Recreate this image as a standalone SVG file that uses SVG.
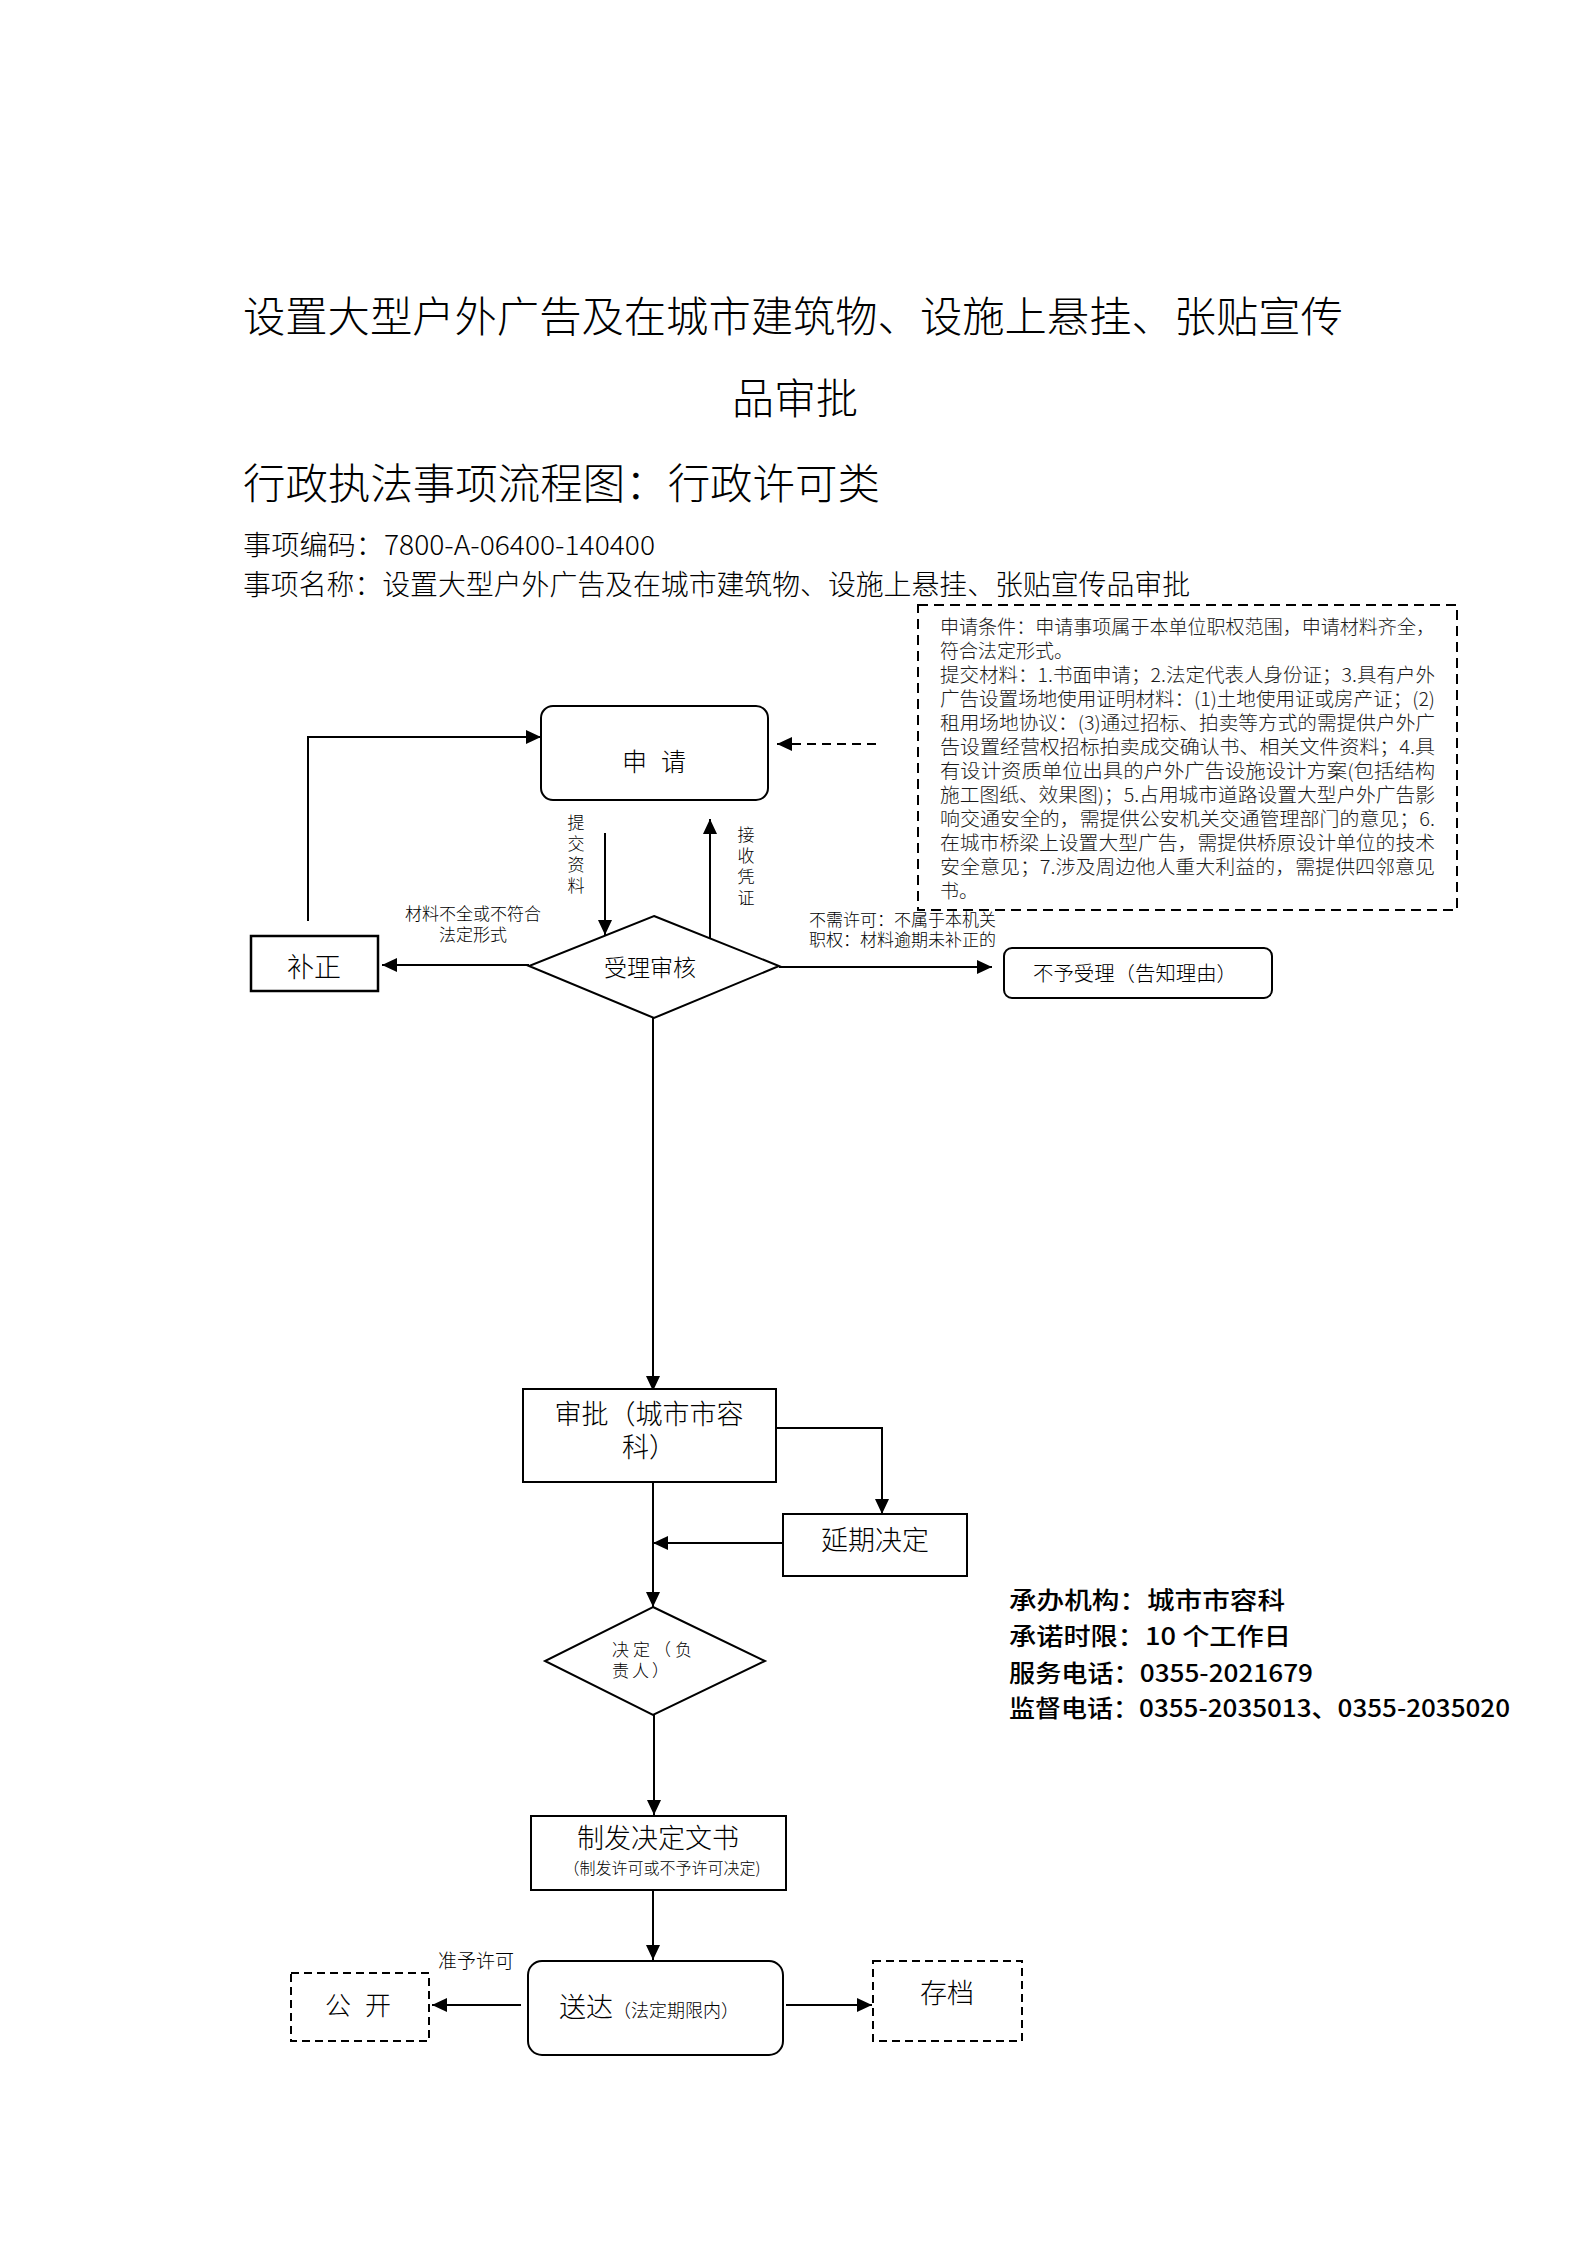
<svg xmlns="http://www.w3.org/2000/svg" width="1587" height="2245" viewBox="0 0 1587 2245">
<style>
text{font-family:"Noto Sans CJK SC","Noto Sans",sans-serif;fill:#000;font-weight:300}
.box{fill:#fff;stroke:#000;stroke-width:2}
.dash{fill:none;stroke:#000;stroke-width:2;stroke-dasharray:8 5}
.ln{fill:none;stroke:#000;stroke-width:2}
.note{font-size:19px;fill:#1a1a1a}
.lab{font-size:17px}
.info{font-size:24px;font-weight:500}
</style>
<defs>
<marker id="ah" viewBox="0 0 15 14" refX="15" refY="7" markerWidth="15" markerHeight="14" markerUnits="userSpaceOnUse" orient="auto">
<path d="M0,0 L15,7 L0,14 z" fill="#000"/>
</marker>
</defs>
<rect width="1587" height="2245" fill="#fff"/>

<g id="header">
<text x="243" y="332" font-size="42" textLength="1100" lengthAdjust="spacingAndGlyphs">设置大型户外广告及在城市建筑物、设施上悬挂、张贴宣传</text>
<text x="795" y="414" font-size="42" text-anchor="middle">品审批</text>
<text x="243" y="499" font-size="42" textLength="637" lengthAdjust="spacingAndGlyphs">行政执法事项流程图：行政许可类</text>
<text x="243" y="555" font-size="27" textLength="412" lengthAdjust="spacingAndGlyphs">事项编码：7800-A-06400-140400</text>
<text x="243" y="595" font-size="28" textLength="947" lengthAdjust="spacingAndGlyphs">事项名称：设置大型户外广告及在城市建筑物、设施上悬挂、张贴宣传品审批</text>
</g>

<g id="conditions">
<rect x="918" y="605" width="539" height="305" fill="none" stroke="#000" stroke-width="2" stroke-dasharray="10 6"/>
<text class="note" x="940" y="634" textLength="495" lengthAdjust="spacingAndGlyphs">申请条件：申请事项属于本单位职权范围，申请材料齐全，</text>
<text class="note" x="940" y="658">符合法定形式。</text>
<text class="note" x="940" y="682" textLength="495" lengthAdjust="spacingAndGlyphs">提交材料：1.书面申请；2.法定代表人身份证；3.具有户外</text>
<text class="note" x="940" y="706" textLength="495" lengthAdjust="spacingAndGlyphs">广告设置场地使用证明材料：(1)土地使用证或房产证；(2)</text>
<text class="note" x="940" y="730" textLength="495" lengthAdjust="spacingAndGlyphs">租用场地协议：(3)通过招标、拍卖等方式的需提供户外广</text>
<text class="note" x="940" y="754" textLength="495" lengthAdjust="spacingAndGlyphs">告设置经营权招标拍卖成交确认书、相关文件资料；4.具</text>
<text class="note" x="940" y="778" textLength="495" lengthAdjust="spacingAndGlyphs">有设计资质单位出具的户外广告设施设计方案(包括结构</text>
<text class="note" x="940" y="802" textLength="495" lengthAdjust="spacingAndGlyphs">施工图纸、效果图)；5.占用城市道路设置大型户外广告影</text>
<text class="note" x="940" y="826" textLength="495" lengthAdjust="spacingAndGlyphs">响交通安全的，需提供公安机关交通管理部门的意见；6.</text>
<text class="note" x="940" y="850" textLength="495" lengthAdjust="spacingAndGlyphs">在城市桥梁上设置大型广告，需提供桥原设计单位的技术</text>
<text class="note" x="940" y="874" textLength="495" lengthAdjust="spacingAndGlyphs">安全意见；7.涉及周边他人重大利益的，需提供四邻意见</text>
<text class="note" x="940" y="898">书。</text>
</g>

<g id="connectors">
<path class="ln" d="M308,921 V737 H541" marker-end="url(#ah)"/>
<path class="ln" d="M876,744 H777" stroke-dasharray="9 6" marker-end="url(#ah)"/>
<path class="ln" d="M605,833 V935" marker-end="url(#ah)"/>
<path class="ln" d="M710,938 V819" marker-end="url(#ah)"/>
<path class="ln" d="M529,965 H382" marker-end="url(#ah)"/>
<path class="ln" d="M779,967 H992" marker-end="url(#ah)"/>
<path class="ln" d="M653,1018 V1391" marker-end="url(#ah)"/>
<path class="ln" d="M776,1428 H882 V1514" marker-end="url(#ah)"/>
<path class="ln" d="M783,1543 H653" marker-end="url(#ah)"/>
<path class="ln" d="M653,1482 V1607" marker-end="url(#ah)"/>
<path class="ln" d="M654,1715 V1815" marker-end="url(#ah)"/>
<path class="ln" d="M653,1890 V1960" marker-end="url(#ah)"/>
<path class="ln" d="M521,2005 H432" marker-end="url(#ah)"/>
<path class="ln" d="M786,2005 H872" marker-end="url(#ah)"/>
</g>

<g id="labels">
<text class="lab" x="576" y="829" text-anchor="middle">提<tspan x="576" dy="21">交</tspan><tspan x="576" dy="21">资</tspan><tspan x="576" dy="21">料</tspan></text>
<text class="lab" x="746" y="841" text-anchor="middle">接<tspan x="746" dy="21">收</tspan><tspan x="746" dy="21">凭</tspan><tspan x="746" dy="21">证</tspan></text>
<text class="lab" x="473" y="920" text-anchor="middle">材料不全或不符合</text>
<text class="lab" x="473" y="941" text-anchor="middle">法定形式</text>
<text class="lab" x="809" y="926">不需许可：不属于本机关</text>
<text class="lab" x="809" y="946">职权：材料逾期未补正的</text>
<text x="476" y="1968" font-size="19" text-anchor="middle">准予许可</text>
</g>

<g id="apply">
<rect class="box" x="541" y="706" width="227" height="94" rx="12"/>
<text x="622" y="771" font-size="25">申<tspan x="661">请</tspan></text>
</g>

<g id="review">
<polygon class="box" points="654,916 779,966 654,1018 529,966"/>
<text x="650" y="976" font-size="23" text-anchor="middle">受理审核</text>
</g>

<g id="correct">
<rect x="251" y="936" width="127" height="55" fill="#fff" stroke="#000" stroke-width="2.5"/>
<text x="314" y="977" font-size="27" text-anchor="middle">补正</text>
</g>

<g id="reject">
<rect class="box" x="1004" y="948" width="268" height="50" rx="8"/>
<text x="1033" y="981" font-size="20" textLength="204" lengthAdjust="spacingAndGlyphs">不予受理（告知理由）</text>
</g>

<g id="approve">
<rect class="box" x="523" y="1389" width="253" height="93"/>
<text x="649" y="1424" font-size="27" text-anchor="middle">审批（城市市容</text>
<text x="649" y="1457" font-size="27" text-anchor="middle">科）</text>
</g>

<g id="extend">
<rect class="box" x="783" y="1514" width="184" height="62"/>
<text x="875" y="1550" font-size="27" text-anchor="middle">延期决定</text>
</g>

<g id="decide">
<polygon class="box" points="653,1607 765,1661 653,1715 545,1661"/>
<text x="612" y="1656" font-size="17" letter-spacing="4">决定（负</text>
<text x="612" y="1677" font-size="17" letter-spacing="3">责人）</text>
</g>

<g id="issue">
<rect class="box" x="531" y="1816" width="255" height="74"/>
<text x="658" y="1848" font-size="27" text-anchor="middle">制发决定文书</text>
<text x="662" y="1874" font-size="16" text-anchor="middle">（制发许可或不予许可决定)</text>
</g>

<g id="deliver">
<rect class="box" x="528" y="1961" width="255" height="94" rx="14"/>
<text x="559" y="2017" font-size="27">送达<tspan font-size="18">（法定期限内）</tspan></text>
</g>

<g id="publish">
<rect class="dash" x="291" y="1973" width="138" height="68"/>
<text x="325" y="2015" font-size="26">公<tspan x="365">开</tspan></text>
</g>

<g id="archive">
<rect class="dash" x="873" y="1961" width="149" height="80"/>
<text x="947" y="2003" font-size="27" text-anchor="middle">存档</text>
</g>

<g id="info">
<text class="info" x="1009" y="1609" textLength="276" lengthAdjust="spacingAndGlyphs">承办机构：城市市容科</text>
<text class="info" x="1009" y="1645" textLength="282" lengthAdjust="spacingAndGlyphs">承诺时限：10 个工作日</text>
<text class="info" x="1009" y="1682" textLength="304" lengthAdjust="spacingAndGlyphs">服务电话：0355-2021679</text>
<text class="info" x="1009" y="1717" textLength="501" lengthAdjust="spacingAndGlyphs">监督电话：0355-2035013、0355-2035020</text>
</g>
</svg>
